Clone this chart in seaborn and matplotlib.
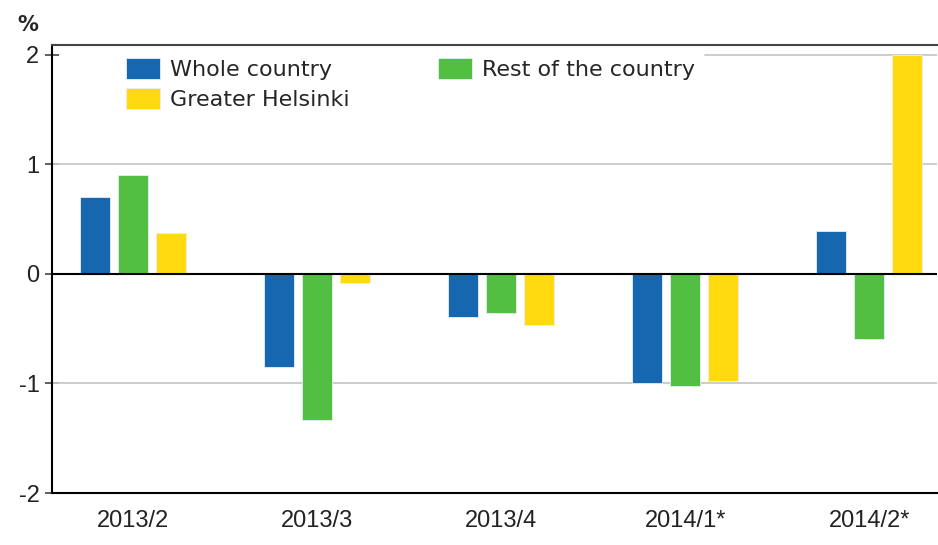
"""Quarterly change in prices, whole country vs regions."""

import matplotlib
matplotlib.use("Agg")
import matplotlib.pyplot as plt
import pandas as pd
import seaborn as sns


quarters = ["2013/2", "2013/3", "2013/4", "2014/1*", "2014/2*"]
whole_country = [0.70, -0.85, -0.39, -1.00, 0.39]
rest_of_country = [0.90, -1.33, -0.36, -1.02, -0.59]
greater_helsinki = [0.37, -0.08, -0.47, -0.98, 2.00]

series_names = ["Whole country", "Rest of the country", "Greater Helsinki"]
series_colors = ["#1667b0", "#52be42", "#ffda0e"]
y_ticks = [-2, -1, 0, 1, 2]


def build_frame() -> pd.DataFrame:
    """Long-format table for seaborn."""
    rows = []
    for name, values in zip(series_names, [whole_country, rest_of_country, greater_helsinki]):
        for quarter, value in zip(quarters, values):
            rows.append({"quarter": quarter, "area": name, "change": value})
    return pd.DataFrame(rows)


def plot_chart(df: pd.DataFrame) -> None:
    sns.set_style("white")
    plt.rcParams["font.family"] = ["Liberation Sans", "DejaVu Sans"]

    fig = plt.figure(figsize=(9.38, 5.45), dpi=100)
    ax = fig.add_axes([0.0554, 0.0954, 0.944, 0.822])

    sns.barplot(
        data=df, x="quarter", y="change", hue="area",
        order=quarters, hue_order=series_names,
        palette=series_colors, saturation=1,
        width=0.62, gap=0.21, edgecolor="#e8eef5", linewidth=0.6,
        errorbar=None, ax=ax, zorder=3,
    )

    ax.set_ylim(-2, 2.09)
    ax.set_xlim(-0.44, 4.37)
    ax.set_yticks(y_ticks)
    ax.set_yticklabels([str(t) for t in y_ticks])
    ax.set_xlabel("")
    ax.set_ylabel("")

    # grid lines; the one at 2 is hidden behind the legend box
    for t in [-1, 1]:
        ax.axhline(t, color="#c8c8c8", linewidth=1.3, zorder=1)
    ax.axhline(2, xmin=0.737, color="#c8c8c8", linewidth=1.3, zorder=1)
    ax.axhline(0, color="black", linewidth=1.5, zorder=4)

    for side in ["left", "bottom"]:
        ax.spines[side].set_color("black")
        ax.spines[side].set_linewidth(1.5)
    ax.spines["top"].set_color("#444444")
    ax.spines["top"].set_linewidth(1.5)
    ax.spines["right"].set_visible(False)

    ax.tick_params(axis="y", direction="inout", length=10, width=1.2,
                   labelsize=17, pad=4, left=True, color="#444444",
                   labelcolor="#222222")
    ax.tick_params(axis="x", length=0, labelsize=17, pad=12,
                   labelcolor="#222222")

    handles, labels = ax.get_legend_handles_labels()
    order = [0, 2, 1]
    ax.legend(
        [handles[i] for i in order], [labels[i] for i in order],
        ncol=2, loc="upper left", bbox_to_anchor=(0.0734, 0.991),
        borderaxespad=0, frameon=False,
        handlelength=1.53, handleheight=1.08, handletextpad=0.45,
        columnspacing=4.0, labelspacing=0.36, borderpad=0.4,
        prop={"family": "DejaVu Sans", "size": 16},
    )

    fig.text(0.018, 0.955, "%", fontsize=15, fontweight="bold",
             family="DejaVu Sans", va="center")

    fig.savefig("out.png", dpi=100)


if __name__ == "__main__":
    plot_chart(build_frame())
